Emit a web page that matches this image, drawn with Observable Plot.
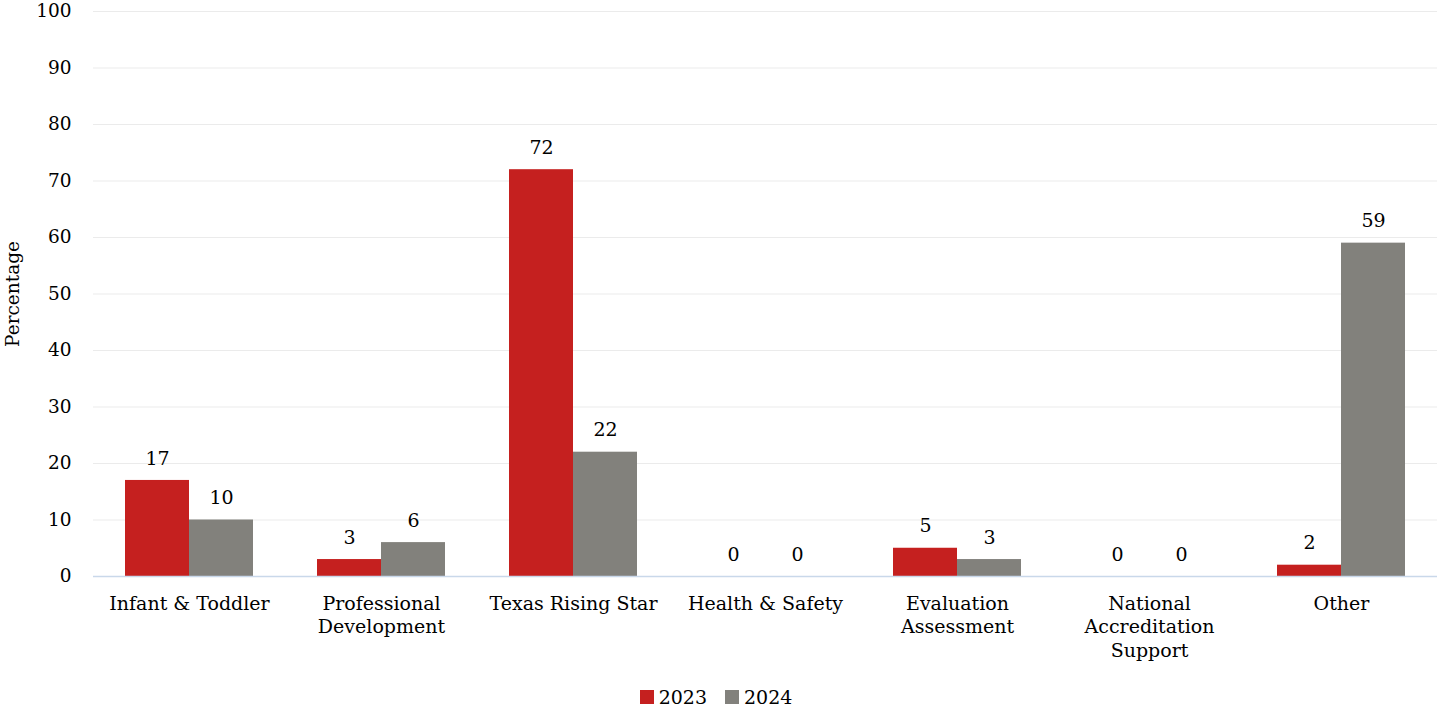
<!DOCTYPE html>
<html>
<head>
<meta charset="utf-8">
<script src="https://cdn.jsdelivr.net/npm/d3@7"></script>
<script src="https://cdn.jsdelivr.net/npm/@observablehq/plot@0.6"></script>
<style>
  html, body { margin: 0; padding: 0; background: #fff; }
  #chart { width: 1440px; }
  .legend { display: flex; justify-content: center; align-items: center; gap: 18px; height: 34px;
    font-family: "DejaVu Serif", Georgia, serif; font-size: 19px; color: #000; padding-right: 8px; }
  .legend span.item { display: inline-flex; align-items: center; gap: 5px; }
  .legend span.sw { display: inline-block; width: 14px; height: 14px; }
</style>
</head>
<body>
<div id="chart"></div>
<script>
const categories = ["Infant & Toddler", "Professional Development", "Texas Rising Star", "Health & Safety", "Evaluation Assessment", "National Accreditation Support", "Other"];
const categoryLabels = ["Infant & Toddler", "Professional\nDevelopment", "Texas Rising Star", "Health & Safety", "Evaluation\nAssessment", "National\nAccreditation\nSupport", "Other"];
const years = ["2023", "2024"];
const values2023 = [17, 3, 72, 0, 5, 0, 2];
const values2024 = [10, 6, 22, 0, 3, 0, 59];
const yTicks = [0, 10, 20, 30, 40, 50, 60, 70, 80, 90, 100];
const colors = ["#c5201f", "#82817c"];

const data = categories.flatMap((c, i) => [
  {category: c, year: years[0], value: values2023[i]},
  {category: c, year: years[1], value: values2024[i]}
]);
const labelOf = new Map(categories.map((c, i) => [c, categoryLabels[i]]));

const font = "'DejaVu Serif', Georgia, serif";

const chart = Plot.plot({
  width: 1440,
  height: 680,
  marginTop: 11,
  marginBottom: 104,
  marginLeft: 92,
  marginRight: 3,
  style: {fontFamily: font, fontSize: "19px", color: "#000", background: "#fff"},
  fx: {domain: categories, padding: 0, label: null},
  x: {domain: years, paddingInner: 0, paddingOuter: 0.5, axis: null},
  y: {domain: [0, 100], label: null},
  color: {domain: years, range: colors},
  marks: [
    Plot.gridY(yTicks, {stroke: "#ebebeb", strokeOpacity: 1}),
    Plot.axisY(yTicks, {tickSize: 0, tickPadding: 22, fontSize: 18.5, label: "Percentage", labelAnchor: "center", labelArrow: "none", labelOffset: 88}),
    Plot.barY(data, {fx: "category", x: "year", y: "value", fill: "year", style: "filter: drop-shadow(1px 1px 1.2px rgba(0,0,0,0.25))"}),
    Plot.ruleY([0], {stroke: "#c9d8ea", strokeWidth: 1.5}),
    Plot.text(data, {fx: "category", x: "year", y: "value", text: d => String(d.value), dy: -22, fontSize: 19}),
    Plot.axisFx({anchor: "bottom", tickSize: 0, tickPadding: 16, fontSize: 19, lineHeight: 1.26, label: null, tickFormat: c => labelOf.get(c), textAnchor: "middle"})
  ]
});
document.getElementById("chart").appendChild(chart);

const legend = document.createElement("div");
legend.className = "legend";
years.forEach((y, i) => {
  const item = document.createElement("span");
  item.className = "item";
  const sw = document.createElement("span");
  sw.className = "sw";
  sw.style.background = colors[i];
  item.appendChild(sw);
  item.appendChild(document.createTextNode(y));
  legend.appendChild(item);
});
document.getElementById("chart").appendChild(legend);
</script>
</body>
</html>
